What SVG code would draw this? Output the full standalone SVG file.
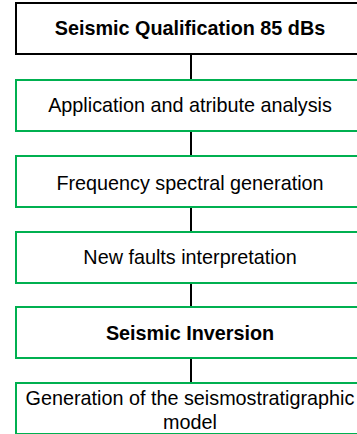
<svg xmlns="http://www.w3.org/2000/svg" width="357" height="434" viewBox="0 0 357 434">
<style>
.box{fill:#fff;stroke-width:2}
.g{stroke:#00b050}
.k{stroke:#000}
.t{font-family:"Liberation Sans",Arial,sans-serif;font-size:19.8px;fill:#000;text-anchor:middle}
.b{font-weight:bold}
.c{stroke:#000;stroke-width:2;fill:none}
</style>
<rect width="357" height="434" fill="#fff"/>
<g id="connectors">
<line class="c" x1="191" y1="54" x2="191" y2="80"/>
<line class="c" x1="191" y1="131" x2="191" y2="156"/>
<line class="c" x1="191" y1="207" x2="191" y2="232"/>
<line class="c" x1="191" y1="283" x2="191" y2="307"/>
<line class="c" x1="191" y1="358" x2="191" y2="383"/>
</g>
<g id="n1"><rect class="box k" x="16" y="3" width="350" height="51"/><text class="t b" x="190" y="35">Seismic Qualification 85 dBs</text></g>
<g id="n2"><rect class="box g" x="16" y="80" width="350" height="51"/><text class="t" x="190" y="112">Application and atribute analysis</text></g>
<g id="n3"><rect class="box g" x="16" y="156" width="350" height="51"/><text class="t" x="190" y="189.5">Frequency spectral generation</text></g>
<g id="n4"><rect class="box g" x="16" y="232" width="350" height="51"/><text class="t" x="190" y="264">New faults interpretation</text></g>
<g id="n5"><rect class="box g" x="16" y="307" width="350" height="51"/><text class="t b" x="190" y="340">Seismic Inversion</text></g>
<g id="n6"><rect class="box g" x="16" y="383" width="350" height="51"/><text class="t" x="190" y="405">Generation of the seismostratigraphic</text><text class="t" x="190" y="429">model</text></g>
</svg>
